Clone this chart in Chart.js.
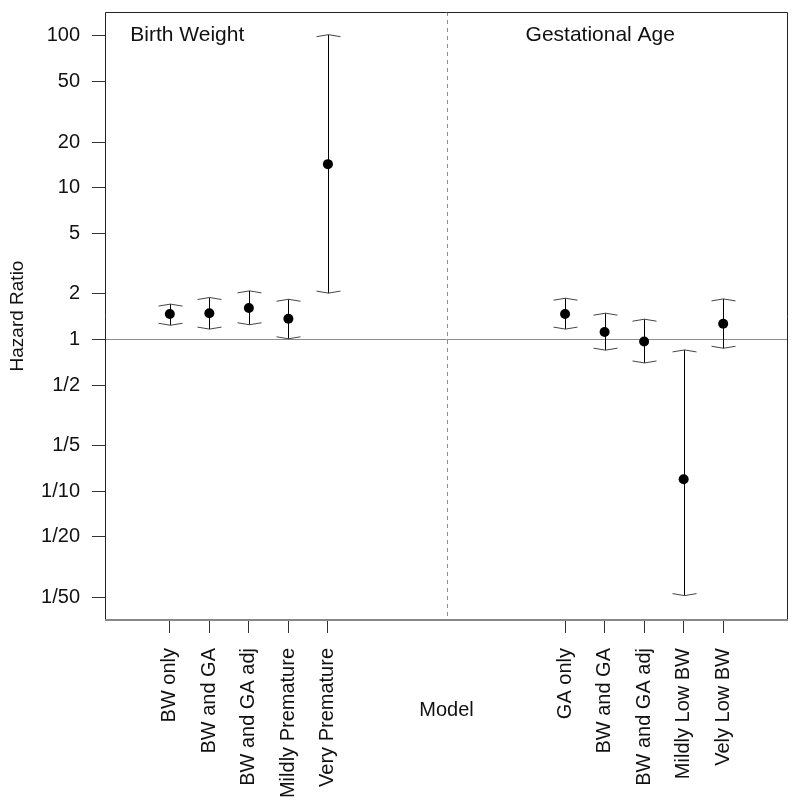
<!DOCTYPE html>
<html>
<head>
<meta charset="utf-8">
<script src="https://cdn.jsdelivr.net/npm/chart.js@4/dist/chart.umd.min.js"></script>
<style>
html,body{margin:0;padding:0;background:#fff}
#wrap{width:800px;height:807px}
</style>
</head>
<body>
<div id="wrap"><canvas id="myChart"></canvas></div>
<script>
// ---- data ----
const models = ['BW only','BW and GA','BW and GA adj','Mildly Premature','Very Premature',
                'GA only','BW and GA','BW and GA adj','Mildly Low BW','Vely Low BW'];
const xPos   = [1,2,3,4,5, 11,12,13,14,15];
const hazard = [1.47,1.49,1.61,1.37,14.3, 1.47,1.12,0.97,0.12,1.27];
const ciLow  = [1.24,1.17,1.25,1.01,2.02, 1.17,0.85,0.70,0.0205,0.875];
const ciHigh = [1.71,1.89,2.09,1.84,102,  1.87,1.49,1.36,0.853,1.85];
const yTicks      = [100,50,20,10,5,2,1,0.5,0.2,0.1,0.05,0.02];
const yTickLabels = ['100','50','20','10','5','2','1','1/2','1/5','1/10','1/20','1/50'];
const panelTitles = ['Birth Weight','Gestational Age'];
const panelTitleX = [0,10];
const panelTitleY = 92;
const dividerX = 8;

const FONT = '"Liberation Sans", Arial, sans-serif';
Chart.defaults.font.family = FONT;
Chart.defaults.font.size = 20;
Chart.defaults.color = '#111';

const errorBars = {
    id: 'errorBars',
    beforeDatasetsDraw(chart) {
        const { ctx, chartArea: { top, bottom, left, right }, scales: { x, y } } = chart;
        ctx.save();
        // HR = 1 reference line
        ctx.lineWidth = 1;
        ctx.strokeStyle = '#8c8c8c';
        const y1 = Math.round(y.getPixelForValue(1)) + 0.5;
        ctx.beginPath(); ctx.moveTo(left, y1); ctx.lineTo(right, y1); ctx.stroke();
        // panel divider
        ctx.setLineDash([4, 4]);
        const xd = Math.round(x.getPixelForValue(dividerX)) + 0.5;
        ctx.beginPath(); ctx.moveTo(xd, top); ctx.lineTo(xd, bottom); ctx.stroke();
        ctx.setLineDash([]);
        // intervals
        xPos.forEach((xv, i) => {
            const px = Math.round(x.getPixelForValue(xv)) + 0.5;
            const lo = y.getPixelForValue(ciLow[i]);
            const hi = y.getPixelForValue(ciHigh[i]);
            ctx.strokeStyle = '#000';
            ctx.beginPath(); ctx.moveTo(px, lo); ctx.lineTo(px, hi); ctx.stroke();
            ctx.strokeStyle = '#444';
            ctx.beginPath();
            ctx.moveTo(px - 12, hi + 2); ctx.lineTo(px, hi); ctx.lineTo(px + 12, hi + 2);
            ctx.moveTo(px - 12, lo - 2); ctx.lineTo(px, lo); ctx.lineTo(px + 12, lo - 2);
            ctx.stroke();
        });
        // panel titles
        ctx.fillStyle = '#111';
        ctx.font = '21px ' + FONT;
        ctx.textAlign = 'left';
        ctx.textBaseline = 'alphabetic';
        panelTitles.forEach((t, i) => {
            ctx.fillText(t, x.getPixelForValue(panelTitleX[i]), y.getPixelForValue(panelTitleY));
        });
        ctx.restore();
    },
    afterDraw(chart) {
        const { ctx, chartArea: { top, bottom, left, right } } = chart;
        ctx.save();
        ctx.lineWidth = 1;
        ctx.strokeStyle = '#222';
        ctx.beginPath();
        ctx.moveTo(left + 0.5, bottom); ctx.lineTo(left + 0.5, top + 0.5);
        ctx.lineTo(right - 0.5, top + 0.5); ctx.lineTo(right - 0.5, bottom);
        ctx.stroke();
        ctx.strokeStyle = '#888';
        ctx.lineWidth = 2;
        ctx.beginPath(); ctx.moveTo(left, bottom); ctx.lineTo(right, bottom); ctx.stroke();
        ctx.restore();
    }
};

const config = {
    type: 'scatter',
    data: {
        datasets: [{
            data: xPos.map((xv, i) => ({ x: xv, y: hazard[i] })),
            backgroundColor: '#000',
            borderWidth: 0,
            pointRadius: 5
        }]
    },
    options: {
        responsive: true,
        maintainAspectRatio: false,
        animation: false,
        layout: { padding: { top: 12, right: 12, left: 0, bottom: 0 } },
        scales: {
            x: {
                type: 'linear',
                bounds: 'data',
                min: -0.64,
                max: 16.64,
                afterBuildTicks: (s) => { s.ticks = xPos.map(v => ({ value: v })); },
                afterFit: (s) => { s.height = 187; s.paddingLeft = 0; s.paddingRight = 0; },
                ticks: {
                    autoSkip: false,
                    minRotation: 90,
                    maxRotation: 90,
                    padding: 15,
                    color: '#111',
                    callback: (v) => models[xPos.indexOf(v)]
                },
                grid: { drawOnChartArea: false, drawTicks: true, tickLength: 13, color: '#333' },
                border: { display: false },
                title: { display: true, text: 'Model', color: '#111', padding: { bottom: 85 } }
            },
            y: {
                type: 'logarithmic',
                bounds: 'data',
                min: 0.01416,
                max: 143.9,
                afterBuildTicks: (s) => { s.ticks = yTicks.map(v => ({ value: v })); },
                afterFit: (s) => { s.width = 105; s.paddingTop = 0; s.paddingBottom = 0; },
                ticks: {
                    autoSkip: false,
                    padding: 12,
                    color: '#111',
                    callback: (v) => yTickLabels[yTicks.indexOf(v)]
                },
                grid: { drawOnChartArea: false, drawTicks: true, tickLength: 13, color: '#333' },
                border: { display: false },
                title: { display: true, text: 'Hazard Ratio', color: '#111', font: { size: 19 }, padding: { top: 6 } }
            }
        },
        plugins: {
            legend: { display: false },
            tooltip: { enabled: false }
        }
    },
    plugins: [errorBars]
};
const myChart = new Chart(document.getElementById('myChart'), config);
</script>
</body>
</html>
